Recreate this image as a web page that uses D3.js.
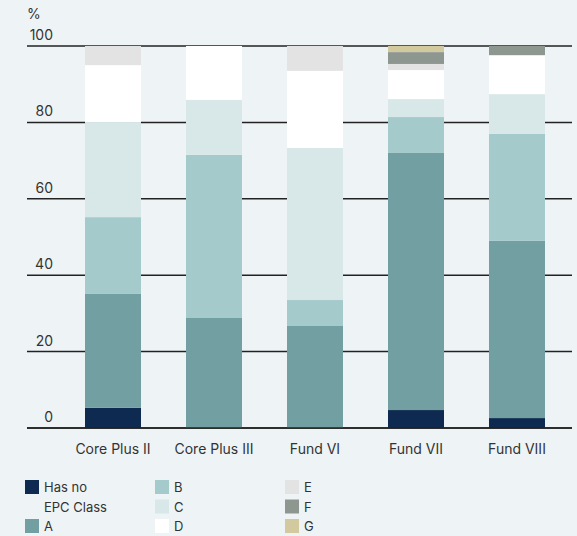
<!DOCTYPE html>
<html>
<head>
<meta charset="utf-8">
<title>EPC classes by fund</title>
<style>
  body { margin: 0; background: #eef3f6; }
  svg text { font-family: 'Inter', 'Liberation Sans', sans-serif; fill: #333; }
</style>
</head>
<body>
<div id="chart"></div>
<script src="https://d3js.org/d3.v7.min.js"></script>
<script>
// data (share of portfolio, %)
var funds = ["Core Plus II", "Core Plus III", "Fund VI", "Fund VII", "Fund VIII"];
var classes = ["Has no EPC Class", "A", "B", "C", "D", "E", "F", "G"];
var hasNo = [5.3, 0, 0, 4.7, 2.6];
var classA = [29.8, 28.8, 26.7, 67.3, 46.4];
var classB = [20.1, 42.7, 6.8, 9.4, 28.0];
var classC = [24.9, 14.4, 39.8, 4.7, 10.4];
var classD = [14.9, 14.1, 20.2, 7.6, 10.2];
var classE = [5.0, 0, 6.5, 1.6, 0];
var classF = [0, 0, 0, 3.1, 2.4];
var classG = [0, 0, 0, 1.6, 0];
var yTicks = [0, 20, 40, 60, 80, 100];

var colors = ["#0e2a50", "#729fa2", "#a4cacc", "#d8e8e8", "#ffffff", "#e3e3e3", "#8e9690", "#d2c99e"];

var series = [hasNo, classA, classB, classC, classD, classE, classF, classG];
var rows = funds.map(function(f, i) {
    var r = { fund: f };
    classes.forEach(function(c, k) { r[c] = series[k][i]; });
    return r;
});

var width = 577, height = 536;

var svg = d3.select('#chart')
    .append('svg')
    .attr('width', width)
    .attr('height', height);

var x = d3.scaleBand()
    .domain(funds)
    .range([62.5, 567.5])
    .paddingInner(0.4455)
    .paddingOuter(0.2228);

var y = d3.scaleLinear()
    .domain([0, 100])
    .range([428, 46]);

var color = d3.scaleOrdinal().domain(classes).range(colors);

// gridlines sit behind the bars
var grid = svg.append('g');
grid.selectAll('line')
    .data(yTicks)
    .enter()
    .append('line')
    .attr('x1', 27)
    .attr('x2', 572)
    .attr('y1', function(d) { return y(d); })
    .attr('y2', function(d) { return y(d); })
    .style('stroke', '#222')
    .style('stroke-width', '1.5px');

grid.selectAll('text')
    .data(yTicks)
    .enter()
    .append('text')
    .attr('x', 53)
    .attr('y', function(d) { return y(d) - 6; })
    .attr('text-anchor', 'end')
    .style('font-size', '14px')
    .text(function(d) { return d; });

svg.append('text')
    .attr('x', 27)
    .attr('y', 19)
    .style('font-size', '14px')
    .text('%');

var stack = d3.stack().keys(classes)(rows);

svg.append('g')
    .selectAll('g')
    .data(stack)
    .enter()
    .append('g')
    .attr('fill', function(d) { return color(d.key); })
    .selectAll('rect')
    .data(function(d) { return d; })
    .enter()
    .append('rect')
    .attr('x', function(d) { return x(d.data.fund); })
    .attr('width', x.bandwidth())
    .attr('y', function(d) { return y(d[1]); })
    .attr('height', function(d) { return y(d[0]) - y(d[1]); });

// baseline redrawn on top of bars
svg.append('line')
    .attr('x1', 27).attr('x2', 572)
    .attr('y1', y(0)).attr('y2', y(0))
    .style('stroke', '#222')
    .style('stroke-width', '1.5px');

svg.append('g')
    .selectAll('text')
    .data(funds)
    .enter()
    .append('text')
    .attr('x', function(d) { return x(d) + x.bandwidth() / 2; })
    .attr('y', 454)
    .attr('text-anchor', 'middle')
    .style('font-size', '14px')
    .text(function(d) { return d; });

// legend, filled column by column
var legendPos = [
    { col: 0, row: 0 }, { col: 0, row: 2 },
    { col: 1, row: 0 }, { col: 1, row: 1 }, { col: 1, row: 2 },
    { col: 2, row: 0 }, { col: 2, row: 1 }, { col: 2, row: 2 }
];
var legend = svg.append('g')
    .selectAll('g')
    .data(classes)
    .enter()
    .append('g')
    .attr('transform', function(d, i) {
        var p = legendPos[i];
        return 'translate(' + (25 + p.col * 130) + ',' + (480 + p.row * 19.5) + ')';
    });

legend.append('rect')
    .attr('width', 14)
    .attr('height', 14)
    .attr('fill', function(d) { return color(d); });

legend.append('text')
    .attr('x', 19)
    .attr('y', 12)
    .style('font-size', '13px')
    .each(function(d) {
        var t = d3.select(this);
        if (d === "Has no EPC Class") {
            t.append('tspan').attr('x', 19).text('Has no');
            t.append('tspan').attr('x', 19).attr('dy', 19.5).text('EPC Class');
        } else {
            t.text(d);
        }
    });
</script>
</body>
</html>
